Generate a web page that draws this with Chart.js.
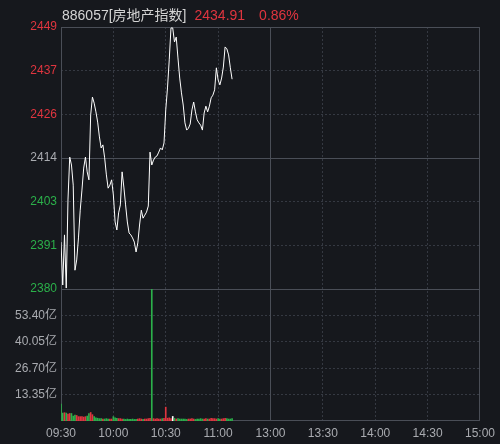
<!DOCTYPE html>
<html lang="zh">
<head>
<meta charset="UTF-8">
<title>886057 房地产指数</title>
<script src="https://cdn.jsdelivr.net/npm/chart.js"></script>
<style>
    body { margin: 0; background: #16181d; }
    #wrap { position: relative; width: 500px; height: 444px; }
    #head {
        position: absolute; top: 6px; left: 62px;
        font: 14px "Liberation Sans", "Noto Sans CJK SC", sans-serif;
        color: #d4d4d4; white-space: nowrap; line-height: 18px;
    }
    #head .red { color: #e0353f; margin-left: 8px; }
    #head .pct { margin-left: 14px; }
</style>
</head>
<body>
<div id="wrap">
    <canvas id="myChart" width="500" height="444"></canvas>
    <div id="head">886057[房地产指数]<span class="red">2434.91</span><span class="red pct">0.86%</span></div>
</div>

<script>
// 昨收和刻度
var prevClose = 2414.15;
var priceStep = 11.5;
var volStep = 13.35;
var timeLabels = ['09:30', '10:00', '10:30', '11:00', '13:00', '13:30', '14:00', '14:30', '15:00'];

// 每分钟价格 (09:30 起)
var prices = [
    2392.0, 2380.7, 2393.9, 2379.9, 2403.1, 2414.4, 2412.3, 2407.0, 2384.6, 2387.3,
    2393.1, 2400.4, 2405.7, 2411.5, 2414.4, 2410.5, 2408.4, 2425.5, 2430.2, 2428.6,
    2426.3, 2423.6, 2419.7, 2416.8, 2417.6, 2414.2, 2409.7, 2406.2, 2407.0, 2408.4,
    2404.4, 2397.3, 2395.2, 2399.7, 2401.8, 2410.5, 2406.5, 2401.8, 2397.3, 2394.4,
    2393.9, 2393.1, 2392.0, 2389.4, 2391.8, 2396.5, 2400.4, 2398.3, 2399.1, 2399.9,
    2401.5, 2415.7, 2412.3, 2413.6, 2414.4, 2414.7, 2415.7, 2416.8, 2416.3, 2418.1,
    2426.8, 2432.6, 2440.0, 2448.4, 2448.4, 2444.7, 2446.0, 2440.5, 2435.2, 2431.3,
    2428.1, 2423.4, 2421.5, 2422.0, 2423.1, 2426.8, 2428.9, 2426.3, 2424.2, 2423.4,
    2422.8, 2421.5, 2426.0, 2427.8, 2426.3, 2427.8, 2430.0, 2430.7, 2432.1, 2437.9,
    2434.7, 2433.4, 2435.2, 2438.1, 2443.4, 2442.9, 2441.3, 2437.9, 2434.9
];

// 每分钟成交额 (亿)
var volumes = [
    8.5, 4.0, 4.2, 4.0, 3.5, 3.8, 3.8, 2.5, 3.0, 2.8,
    2.2, 2.2, 2.2, 2.0, 2.2, 2.5, 3.8, 4.3, 3.2, 2.2,
    1.6, 1.4, 1.2, 1.2, 1.0, 1.0, 1.2, 1.0, 1.0, 1.0,
    2.2, 1.6, 1.4, 1.2, 1.2, 1.0, 1.0, 0.8, 1.0, 0.8,
    0.8, 1.0, 0.8, 0.8, 1.0, 1.2, 1.0, 0.8, 1.0, 1.0,
    1.2, 1.4, 66.7, 1.2, 1.0, 1.2, 1.0, 1.0, 1.2, 1.4,
    7.0, 1.4, 1.6, 1.2, 2.3, 1.4, 1.0, 1.2, 1.0, 1.0,
    1.0, 1.0, 0.8, 1.0, 1.0, 1.2, 1.0, 0.8, 1.0, 1.0,
    1.2, 1.0, 1.0, 1.2, 1.0, 1.0, 1.4, 1.2, 1.2, 1.0,
    1.2, 1.0, 1.0, 1.2, 1.4, 1.2, 1.0, 1.0, 1.2
];

var RED = '#e0353f', GREEN = '#2bb04a', GRAY = '#a9abb0';
var GRID = '#353942', SOLID = '#4a4e57';
var FONT = { family: '"Liberation Sans", "Noto Sans CJK SC", sans-serif', size: 12 };

// 涨红跌绿
var barColors = volumes.map(function(v, i) {
    if (i === 0) return GREEN;
    if (prices[i] > prices[i - 1]) return RED;
    if (prices[i] < prices[i - 1]) return GREEN;
    return '#ffffff';
});

// 实线: 外框, 昨收线, 上下分隔, 午间休市
var frameLines = {
    id: 'frameLines',
    beforeDatasetsDraw: function(chart) {
        var a = chart.chartArea, ctx = chart.ctx;
        var y = chart.scales.y, x = chart.scales.x;
        ctx.save();
        ctx.strokeStyle = SOLID;
        ctx.lineWidth = 1;
        ctx.strokeRect(a.left + 0.5, a.top + 0.5, a.right - a.left - 1, a.bottom - a.top - 1);
        ctx.beginPath();
        var py = Math.round(y.getPixelForValue(prevClose)) + 0.5;
        ctx.moveTo(a.left, py); ctx.lineTo(a.right, py);
        var by = Math.round(y.bottom) + 0.5;
        ctx.moveTo(a.left, by); ctx.lineTo(a.right, by);
        var mx = Math.round(x.getPixelForValue(120)) + 0.5;
        ctx.moveTo(mx, a.top); ctx.lineTo(mx, a.bottom);
        ctx.stroke();
        ctx.restore();
    }
};

var ctx = document.getElementById('myChart').getContext('2d');
var myChart = new Chart(ctx, {
    data: {
        datasets: [
            {
                type: 'line',
                data: prices.map(function(p, i) { return { x: i, y: p }; }),
                yAxisID: 'y',
                borderColor: '#ffffff',
                borderWidth: 1,
                pointRadius: 0,
                tension: 0
            },
            {
                type: 'bar',
                data: volumes.map(function(v, i) { return { x: i, y: v }; }),
                yAxisID: 'yVol',
                backgroundColor: barColors,
                barThickness: 1,
                borderWidth: 0
            }
        ]
    },
    plugins: [frameLines],
    options: {
        responsive: false,
        animation: false,
        layout: { padding: { top: 27, right: 17, left: 0, bottom: 0 } },
        plugins: { legend: { display: false }, tooltip: { enabled: false } },
        scales: {
            x: {
                type: 'linear',
                min: 0, max: 240,
                offset: false,
                afterBuildTicks: function(s) {
                    s.ticks = timeLabels.map(function(t, i) { return { value: i * 30 }; });
                },
                afterFit: function(s) { s.height = 23; },
                ticks: {
                    autoSkip: false, maxRotation: 0, padding: 5,
                    color: GRAY, font: FONT,
                    callback: function(v) { return timeLabels[v / 30]; }
                },
                grid: { color: GRID, drawTicks: false, offset: false },
                border: { display: false, dash: [2, 2] }
            },
            y: {
                type: 'linear',
                position: 'left',
                stack: 'k',
                stackWeight: 262,
                weight: 1,
                min: prevClose - 3 * priceStep,
                max: prevClose + 3 * priceStep,
                afterBuildTicks: function(s) {
                    var t = [];
                    for (var k = -3; k <= 3; k++) t.push({ value: prevClose + k * priceStep });
                    s.ticks = t;
                },
                afterFit: function(s) { s.width = 61; },
                ticks: {
                    padding: 4, font: FONT,
                    color: function(c) {
                        var v = c.tick.value;
                        if (Math.abs(v - prevClose) < 0.01) return GRAY;
                        return v > prevClose ? RED : GREEN;
                    },
                    callback: function(v) { return Math.round(v); }
                },
                grid: { color: GRID, drawTicks: false },
                border: { display: false, dash: [2, 2] }
            },
            yVol: {
                type: 'linear',
                position: 'left',
                stack: 'k',
                stackWeight: 132,
                weight: 0,
                min: 0,
                max: 5 * volStep,
                afterBuildTicks: function(s) {
                    s.ticks = [1, 2, 3, 4].map(function(k) { return { value: k * volStep }; });
                },
                afterFit: function(s) { s.width = 61; },
                ticks: {
                    padding: 4, font: FONT, color: GRAY,
                    callback: function(v) { return v.toFixed(2) + '亿'; }
                },
                grid: { color: GRID, drawTicks: false },
                border: { display: false, dash: [2, 2] }
            }
        }
    }
});
</script>
</body>
</html>
